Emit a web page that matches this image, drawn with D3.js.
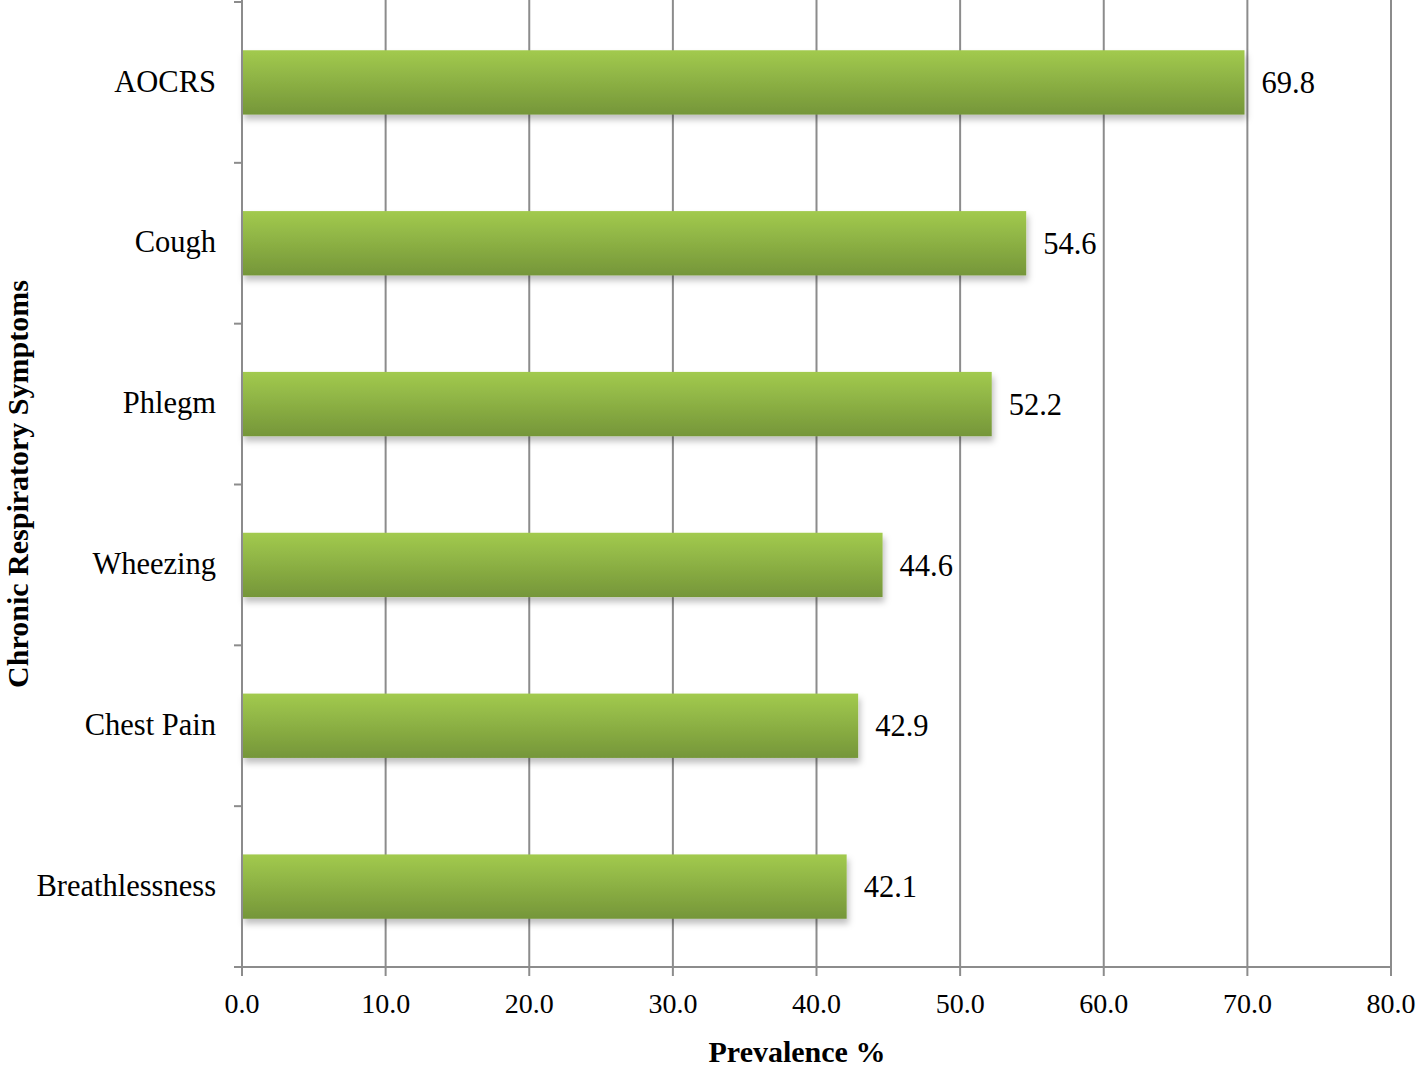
<!DOCTYPE html>
<html><head><meta charset="utf-8">
<script src="https://cdn.jsdelivr.net/npm/d3@7"></script>
<style>body{margin:0;background:#fff}svg{display:block}</style>
</head><body>
<script>
const categories = ["AOCRS","Cough","Phlegm","Wheezing","Chest Pain","Breathlessness"];
const values = [69.8,54.6,52.2,44.6,42.9,42.1];
const xTicks = [0,10,20,30,40,50,60,70,80];

const W=1418,H=1069;
const m={left:242,right:1418-1391,top:2,bottom:1069-967};
const svg=d3.select("body").append("svg").attr("width",W).attr("height",H);
const defs=svg.append("defs");
const g1=defs.append("linearGradient").attr("id","bg").attr("x1",0).attr("y1",0).attr("x2",0).attr("y2",1);
g1.append("stop").attr("offset","0%").attr("stop-color","#a2ca4e");
g1.append("stop").attr("offset","100%").attr("stop-color","#759639");
const f=defs.append("filter").attr("id","sh").attr("x","-5%").attr("y","-20%").attr("width","110%").attr("height","160%");
f.append("feDropShadow").attr("dx",2).attr("dy",5).attr("stdDeviation",3).attr("flood-color","#000").attr("flood-opacity",0.25);

const x=d3.scaleLinear().domain([0,80]).range([m.left,W-m.right]);
const y=d3.scaleBand().domain(categories).range([m.top,H-m.bottom]).paddingInner(0.6).paddingOuter(0.3);
const yb=d3.scaleBand().domain(categories).range([m.top,H-m.bottom]);

// gridlines
svg.append("g").selectAll("line").data(xTicks.slice(1)).join("line")
 .attr("x1",d=>x(d)).attr("x2",d=>x(d)).attr("y1",0).attr("y2",H-m.bottom)
 .attr("stroke","#8c8c8c").attr("stroke-width",2);

// bars
svg.append("g").selectAll("rect").data(values).join("rect")
 .attr("x",x(0)).attr("y",(d,i)=>y(categories[i])).attr("width",d=>x(d)-x(0)).attr("height",y.bandwidth())
 .attr("fill","url(#bg)").attr("filter","url(#sh)");

// y axis
const ya=svg.append("g").attr("transform",`translate(${m.left},0)`);
ya.append("line").attr("x1",0).attr("x2",0).attr("y1",0).attr("y2",H-m.bottom+9).attr("stroke","#8c8c8c").attr("stroke-width",2);
const ybound=categories.map(c=>yb(c)).concat([H-m.bottom]);
ya.selectAll("line.t").data(ybound).join("line").attr("class","t")
 .attr("x1",-8).attr("x2",0).attr("y1",d=>d).attr("y2",d=>d).attr("stroke","#8c8c8c").attr("stroke-width",2);
ya.selectAll("text").data(categories).join("text")
 .attr("x",-26).attr("y",d=>yb(d)+yb.bandwidth()/2).attr("dy","0.3em").attr("text-anchor","end")
 .attr("font-family","Liberation Serif").attr("font-size",30.5).text(d=>d);

// x axis
const xa=svg.append("g").attr("transform",`translate(0,${H-m.bottom})`);
xa.append("line").attr("x1",m.left-8).attr("x2",W-m.right).attr("stroke","#8c8c8c").attr("stroke-width",2);
xa.selectAll("line.t").data(xTicks).join("line").attr("class","t")
 .attr("x1",d=>x(d)).attr("x2",d=>x(d)).attr("y1",0).attr("y2",9).attr("stroke","#8c8c8c").attr("stroke-width",2);
xa.selectAll("text").data(xTicks).join("text")
 .attr("x",d=>x(d)).attr("y",46).attr("text-anchor","middle")
 .attr("font-family","Liberation Serif").attr("font-size",28).text(d=>d.toFixed(1));

// value labels
svg.append("g").selectAll("text").data(values).join("text")
 .attr("x",d=>x(d)+17).attr("y",(d,i)=>y(categories[i])+y.bandwidth()/2).attr("dy","0.35em")
 .attr("font-family","Liberation Serif").attr("font-size",30.5).text(d=>d.toFixed(1));

// titles
svg.append("text").attr("x",797).attr("y",1062).attr("text-anchor","middle")
 .attr("font-family","Liberation Serif").attr("font-weight","bold").attr("font-size",30).text("Prevalence %");
svg.append("text").attr("transform",`translate(28,484) rotate(-90)`).attr("text-anchor","middle")
 .attr("font-family","Liberation Serif").attr("font-weight","bold").attr("font-size",30).text("Chronic Respiratory Symptoms");
</script>
</body></html>
